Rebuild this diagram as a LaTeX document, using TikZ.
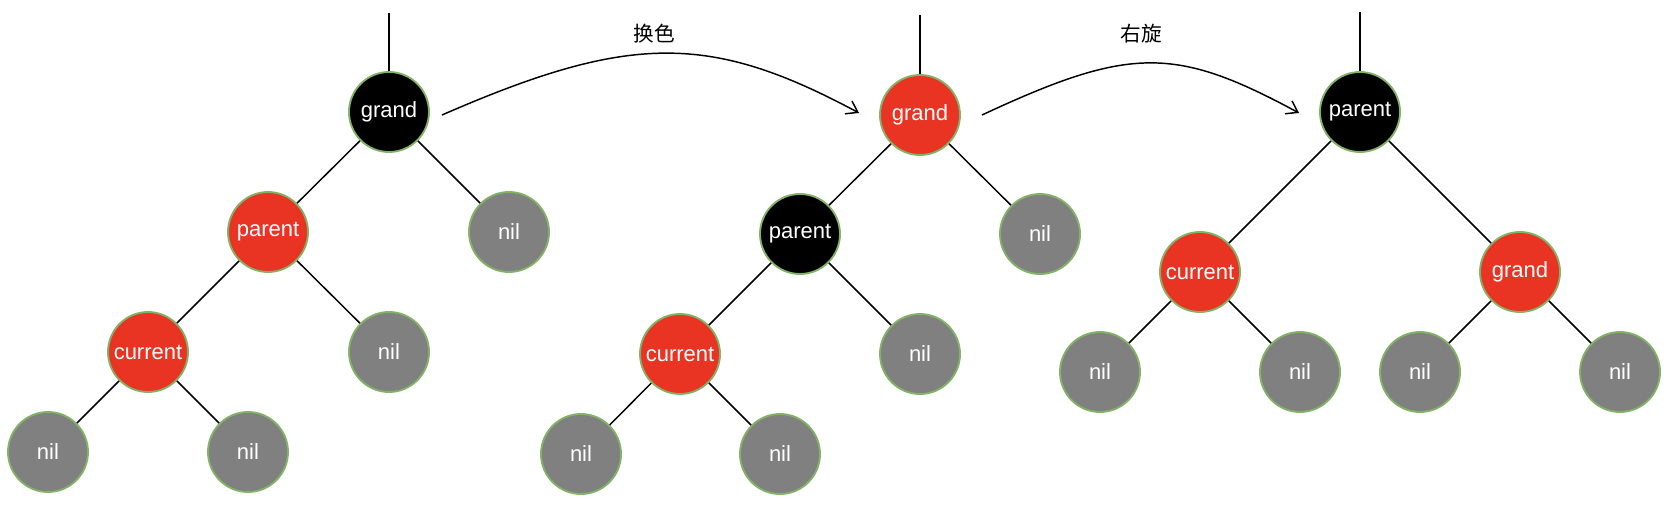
\documentclass[tikz,border=0pt]{standalone}
\usepackage{fontspec}
\setmainfont{Liberation Sans}
\newfontfamily\cjk{Noto Sans CJK SC}
\usepackage{tikz}
\usetikzlibrary{
	arrows.meta,									% 提供各种箭头样式
	shapes.geometric,								% 几何形状
}
\definecolor{rbred}{RGB}{233,51,35}
\definecolor{rbgray}{RGB}{128,128,128}
\definecolor{rbedge}{RGB}{130,179,102}
\tikzset{
	rbnode/.style={circle, minimum size=60pt, inner sep=0pt, draw=rbedge, line width=1.4pt,
		text=white, font=\fontsize{16.5}{18}\selectfont},
	rednode/.style={rbnode, fill=rbred},
	blacknode/.style={rbnode, fill=black},
	nilnode/.style={rbnode, fill=rbgray},
	link/.style={line width=1.1pt},
	turn/.style={line width=1.1pt, -{Straight Barb[length=8pt,width=11pt,line width=1.1pt]}},
	turnlabel/.style={font=\cjk\fontsize{15.5}{17}\selectfont},
}

\begin{document}
\begin{tikzpicture}[x=0.75pt,y=-0.75pt]
	\useasboundingbox (0,0) rectangle (1670,520);
	% 第一棵树
	\node[blacknode] (g1) at (389,112) {grand};
	\node[rednode] (p1) at (268,232) {parent};
	\node[nilnode] (n1a) at (509,232) {nil};
	\node[rednode] (c1) at (148,352) {current};
	\node[nilnode] (n1b) at (389,352) {nil};
	\node[nilnode] (n1c) at (48,452) {nil};
	\node[nilnode] (n1d) at (248,452) {nil};
	\coordinate (r1) at (389,13);
	% 第二棵树
	\node[rednode] (g2) at (920,115) {grand};
	\node[blacknode] (p2) at (800,234) {parent};
	\node[nilnode] (n2a) at (1040,234) {nil};
	\node[rednode] (c2) at (680,354) {current};
	\node[nilnode] (n2b) at (920,354) {nil};
	\node[nilnode] (n2c) at (581,454) {nil};
	\node[nilnode] (n2d) at (780,454) {nil};
	\coordinate (r2) at (920,15);
	% 第三棵树
	\node[blacknode] (p3) at (1360,112) {parent};
	\node[rednode] (c3) at (1200,272) {current};
	\node[rednode] (g3) at (1520,272) {grand};
	\node[nilnode] (n3a) at (1100,372) {nil};
	\node[nilnode] (n3b) at (1300,372) {nil};
	\node[nilnode] (n3c) at (1420,372) {nil};
	\node[nilnode] (n3d) at (1620,372) {nil};
	\coordinate (r3) at (1360,12);
	% 连线
	\foreach \a/\b in {r1/g1, g1/p1, g1/n1a, p1/c1, p1/n1b, c1/n1c, c1/n1d,
		r2/g2, g2/p2, g2/n2a, p2/c2, p2/n2b, c2/n2c, c2/n2d,
		r3/p3, p3/c3, p3/g3, c3/n3a, c3/n3b, g3/n3c, g3/n3d}
		\draw[link] (\a) -- (\b);
	% 变换箭头
	\coordinate (s1) at (442,115);
	\coordinate (e1) at (859,113);
	\coordinate (s2) at (982,115);
	\coordinate (e2) at (1299,113);
	\draw[turn] (s1) .. controls (630,33) and (710,33) .. (e1);
	\draw[turn] (s2) .. controls (1130,46) and (1175,46) .. (e2);
	\node[turnlabel] (t1) at (654,34) {换色};
	\node[turnlabel] (t2) at (1141,34) {右旋};
\end{tikzpicture}
\end{document}
